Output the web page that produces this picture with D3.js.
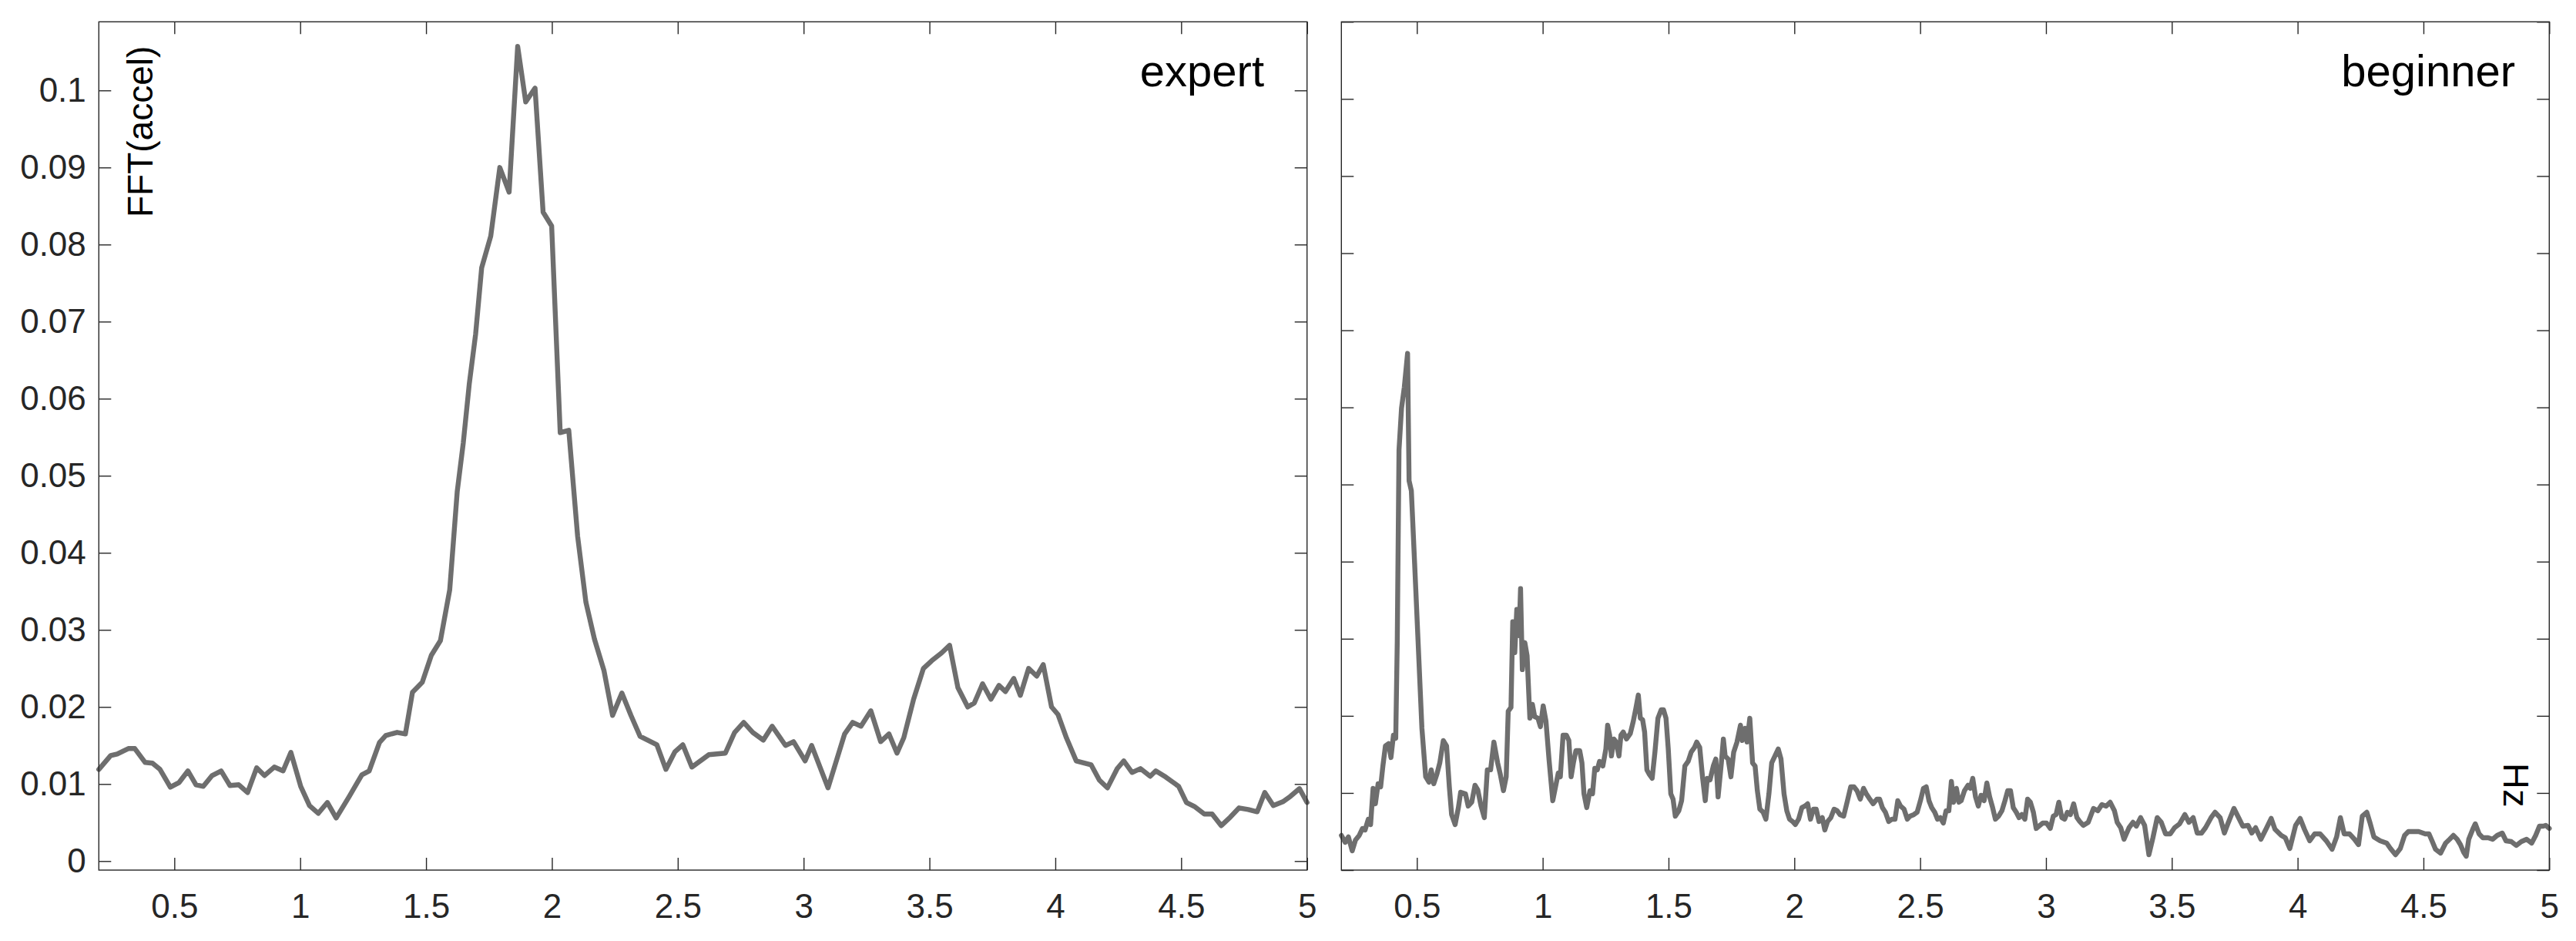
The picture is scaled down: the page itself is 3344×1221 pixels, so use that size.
<!DOCTYPE html>
<html>
<head>
<meta charset="utf-8">
<script src="https://cdn.jsdelivr.net/npm/d3@7"></script>
<style>
  body { margin: 0; background: #fff; }
  svg { display: block; }
  .axis text { font-family: "Liberation Sans", Arial, sans-serif; font-size: 44px; fill: #262626; }
  .axis line { stroke: #262626; stroke-width: 1.4; }
  .axis .domain { display: none; }
  .frame { fill: none; stroke: #262626; stroke-width: 1.4; }
  .line { fill: none; stroke: #6e6e6e; stroke-width: 6.4; stroke-linejoin: round; stroke-linecap: round; }
  .label { font-family: "Liberation Sans", Arial, sans-serif; fill: #000; }
</style>
</head>
<body>
<div id="chart"></div>
<script>
// tick values and labels
const xTickValues = [0.5, 1, 1.5, 2, 2.5, 3, 3.5, 4, 4.5, 5];
const xTickLabels = ["0.5", "1", "1.5", "2", "2.5", "3", "3.5", "4", "4.5", "5"];
const yTickValues = [0, 0.01, 0.02, 0.03, 0.04, 0.05, 0.06, 0.07, 0.08, 0.09, 0.1];
const yTickLabels = ["0", "0.01", "0.02", "0.03", "0.04", "0.05", "0.06", "0.07", "0.08", "0.09", "0.1"];
const yTickValuesRight = [0, 0.01, 0.02, 0.03, 0.04, 0.05, 0.06, 0.07, 0.08, 0.09, 0.1, 0.11];

const panelNames = ["expert", "beginner"];

// [Hz, FFT(accel)]
const expertSeries = [
  [0.200,0.0119],[0.247,0.0137],[0.273,0.0139],[0.317,0.0146],[0.343,0.0146],[0.384,0.0128],[0.413,0.0127],
  [0.443,0.0119],[0.484,0.0096],[0.519,0.0102],[0.554,0.0117],[0.586,0.0099],[0.615,0.0097],[0.650,0.0111],
  [0.686,0.0117],[0.721,0.0098],[0.756,0.0099],[0.791,0.0089],[0.827,0.0121],[0.858,0.0111],[0.897,0.0122],
  [0.932,0.0117],[0.963,0.0141],[1.002,0.0097],[1.037,0.0072],[1.072,0.0062],[1.108,0.0076],[1.143,0.0056],
  [1.195,0.0084],[1.245,0.0112],[1.274,0.0117],[1.315,0.0154],[1.340,0.0163],[1.385,0.0167],[1.418,0.0165],
  [1.446,0.0219],[1.485,0.0232],[1.521,0.0267],[1.557,0.0286],[1.594,0.0352],[1.624,0.0480],[1.648,0.0543],
  [1.672,0.0620],[1.697,0.0684],[1.721,0.0770],[1.757,0.0811],[1.793,0.0900],[1.830,0.0868],[1.864,0.1057],
  [1.896,0.0985],[1.933,0.1003],[1.965,0.0842],[1.999,0.0824],[2.033,0.0556],[2.067,0.0559],[2.102,0.0422],
  [2.135,0.0336],[2.169,0.0288],[2.207,0.0247],[2.241,0.0189],[2.278,0.0218],[2.314,0.0189],[2.350,0.0162],
  [2.417,0.0151],[2.453,0.0119],[2.489,0.0142],[2.520,0.0151],[2.556,0.0122],[2.623,0.0138],[2.689,0.0140],
  [2.726,0.0167],[2.762,0.0180],[2.798,0.0167],[2.840,0.0157],[2.875,0.0175],[2.928,0.0150],[2.960,0.0155],
  [3.006,0.0130],[3.032,0.0150],[3.097,0.0095],[3.163,0.0165],[3.195,0.0180],[3.228,0.0175],[3.267,0.0195],
  [3.306,0.0155],[3.339,0.0165],[3.371,0.0140],[3.398,0.0160],[3.437,0.0210],[3.476,0.0250],[3.509,0.0260],
  [3.548,0.0270],[3.580,0.0280],[3.613,0.0225],[3.652,0.0200],[3.678,0.0205],[3.711,0.0230],[3.744,0.0210],
  [3.776,0.0228],[3.802,0.0220],[3.835,0.0237],[3.861,0.0215],[3.894,0.0250],[3.926,0.0240],[3.952,0.0255],
  [3.985,0.0200],[4.011,0.0190],[4.044,0.0160],[4.083,0.0130],[4.142,0.0125],[4.175,0.0105],[4.207,0.0095],
  [4.246,0.0120],[4.272,0.0130],[4.305,0.0115],[4.338,0.0120],[4.377,0.0110],[4.399,0.0117],[4.439,0.0109],
  [4.490,0.0097],[4.521,0.0076],[4.552,0.0071],[4.592,0.0061],[4.623,0.0061],[4.659,0.0046],[4.695,0.0057],
  [4.730,0.0069],[4.766,0.0067],[4.802,0.0064],[4.832,0.0089],[4.866,0.0072],[4.904,0.0077],[4.934,0.0084],
  [4.970,0.0094],[5.000,0.0076]
];

const beginnerSeries = [
  [0.200,0.0045],[0.215,0.0036],[0.228,0.0043],[0.243,0.0025],[0.256,0.0039],[0.271,0.0045],[0.284,0.0054],
  [0.294,0.0052],[0.307,0.0066],[0.316,0.0059],[0.326,0.0106],[0.335,0.0086],[0.346,0.0112],[0.356,0.0108],
  [0.365,0.0135],[0.375,0.0161],[0.388,0.0164],[0.397,0.0146],[0.407,0.0175],[0.416,0.0171],[0.422,0.0295],
  [0.429,0.0545],[0.439,0.0599],[0.450,0.0626],[0.463,0.0670],[0.469,0.0505],[0.478,0.0492],[0.491,0.0398],
  [0.505,0.0295],[0.520,0.0184],[0.535,0.0121],[0.548,0.0114],[0.557,0.0130],[0.567,0.0112],[0.580,0.0125],
  [0.591,0.0139],[0.605,0.0168],[0.618,0.0161],[0.629,0.0108],[0.638,0.0072],[0.652,0.0059],[0.665,0.0081],
  [0.674,0.0101],[0.693,0.0099],[0.704,0.0083],[0.718,0.0088],[0.731,0.0110],[0.742,0.0104],[0.755,0.0083],
  [0.768,0.0068],[0.780,0.0130],[0.793,0.0130],[0.806,0.0166],[0.821,0.0139],[0.831,0.0125],[0.844,0.0103],
  [0.855,0.0121],[0.863,0.0206],[0.874,0.0211],[0.881,0.0322],[0.889,0.0282],[0.897,0.0338],[0.906,0.0304],
  [0.912,0.0365],[0.919,0.0260],[0.929,0.0295],[0.938,0.0278],[0.949,0.0197],[0.959,0.0215],[0.968,0.0199],
  [0.981,0.0197],[0.991,0.0186],[1.002,0.0213],[1.013,0.0193],[1.025,0.0144],[1.040,0.0090],[1.051,0.0108],
  [1.062,0.0126],[1.070,0.0121],[1.081,0.0175],[1.094,0.0175],[1.104,0.0168],[1.113,0.0121],[1.122,0.0139],
  [1.132,0.0155],[1.147,0.0155],[1.156,0.0139],[1.164,0.0099],[1.175,0.0081],[1.188,0.0103],[1.198,0.0099],
  [1.207,0.0132],[1.217,0.0130],[1.226,0.0141],[1.239,0.0135],[1.251,0.0157],[1.258,0.0188],[1.266,0.0175],
  [1.273,0.0148],[1.283,0.0170],[1.292,0.0166],[1.303,0.0148],[1.311,0.0175],[1.320,0.0179],[1.333,0.0170],
  [1.348,0.0177],[1.360,0.0193],[1.371,0.0211],[1.380,0.0227],[1.388,0.0197],[1.397,0.0195],[1.405,0.0179],
  [1.414,0.0130],[1.424,0.0124],[1.435,0.0119],[1.446,0.0153],[1.458,0.0197],[1.471,0.0208],[1.480,0.0208],
  [1.490,0.0197],[1.499,0.0157],[1.509,0.0099],[1.518,0.0092],[1.527,0.0070],[1.541,0.0077],[1.552,0.0090],
  [1.565,0.0135],[1.578,0.0141],[1.590,0.0153],[1.603,0.0159],[1.612,0.0166],[1.624,0.0159],[1.635,0.0121],
  [1.646,0.0090],[1.654,0.0119],[1.665,0.0117],[1.678,0.0135],[1.688,0.0144],[1.697,0.0095],[1.710,0.0139],
  [1.718,0.0170],[1.725,0.0148],[1.737,0.0144],[1.748,0.0121],[1.759,0.0153],[1.772,0.0166],[1.786,0.0188],
  [1.793,0.0168],[1.804,0.0184],[1.812,0.0166],[1.823,0.0197],[1.834,0.0139],[1.844,0.0135],[1.853,0.0103],
  [1.863,0.0079],[1.876,0.0075],[1.887,0.0066],[1.899,0.0099],[1.910,0.0139],[1.923,0.0148],[1.936,0.0157],
  [1.947,0.0144],[1.959,0.0099],[1.970,0.0077],[1.981,0.0066],[1.993,0.0063],[2.004,0.0059],[2.017,0.0066],
  [2.030,0.0081],[2.042,0.0083],[2.053,0.0086],[2.064,0.0066],[2.076,0.0079],[2.087,0.0079],[2.098,0.0063],
  [2.111,0.0068],[2.121,0.0052],[2.132,0.0063],[2.145,0.0068],[2.158,0.0079],[2.170,0.0077],[2.181,0.0072],
  [2.196,0.0070],[2.211,0.0090],[2.224,0.0108],[2.237,0.0108],[2.249,0.0103],[2.262,0.0092],[2.275,0.0106],
  [2.286,0.0099],[2.300,0.0092],[2.313,0.0086],[2.328,0.0092],[2.339,0.0092],[2.350,0.0081],[2.362,0.0075],
  [2.375,0.0063],[2.388,0.0066],[2.400,0.0066],[2.411,0.0090],[2.422,0.0083],[2.436,0.0079],[2.449,0.0066],
  [2.460,0.0070],[2.475,0.0072],[2.488,0.0075],[2.501,0.0090],[2.513,0.0106],[2.524,0.0108],[2.535,0.0090],
  [2.546,0.0081],[2.558,0.0075],[2.569,0.0066],[2.580,0.0068],[2.592,0.0061],[2.603,0.0077],[2.614,0.0077],
  [2.624,0.0115],[2.633,0.0088],[2.644,0.0106],[2.654,0.0088],[2.663,0.0090],[2.676,0.0103],[2.690,0.0110],
  [2.699,0.0106],[2.709,0.0119],[2.720,0.0095],[2.731,0.0083],[2.742,0.0097],[2.754,0.0090],[2.765,0.0113],
  [2.776,0.0095],[2.788,0.0081],[2.799,0.0066],[2.812,0.0070],[2.825,0.0077],[2.837,0.0090],[2.848,0.0103],
  [2.859,0.0103],[2.870,0.0081],[2.882,0.0075],[2.893,0.0068],[2.904,0.0072],[2.916,0.0066],[2.927,0.0092],
  [2.938,0.0088],[2.950,0.0075],[2.961,0.0054],[2.972,0.0057],[2.987,0.0061],[3.002,0.0061],[3.017,0.0054],
  [3.029,0.0070],[3.040,0.0072],[3.051,0.0088],[3.063,0.0068],[3.074,0.0066],[3.085,0.0075],[3.097,0.0072],
  [3.110,0.0086],[3.123,0.0068],[3.134,0.0063],[3.148,0.0058],[3.168,0.0062],[3.189,0.0080],[3.206,0.0077],
  [3.222,0.0085],[3.239,0.0083],[3.255,0.0088],[3.272,0.0077],[3.283,0.0062],[3.297,0.0055],[3.310,0.0040],
  [3.330,0.0055],[3.346,0.0062],[3.359,0.0057],[3.376,0.0068],[3.392,0.0058],[3.409,0.0020],[3.425,0.0042],
  [3.442,0.0068],[3.458,0.0062],[3.475,0.0047],[3.494,0.0047],[3.511,0.0055],[3.531,0.0060],[3.552,0.0072],
  [3.568,0.0062],[3.585,0.0068],[3.601,0.0048],[3.618,0.0048],[3.634,0.0055],[3.656,0.0068],[3.672,0.0075],
  [3.692,0.0068],[3.709,0.0048],[3.725,0.0062],[3.747,0.0080],[3.767,0.0067],[3.782,0.0057],[3.803,0.0058],
  [3.818,0.0048],[3.833,0.0055],[3.854,0.0040],[3.874,0.0053],[3.895,0.0067],[3.910,0.0053],[3.935,0.0045],
  [3.951,0.0042],[3.969,0.0028],[3.992,0.0058],[4.010,0.0067],[4.027,0.0053],[4.048,0.0038],[4.068,0.0047],
  [4.089,0.0047],[4.114,0.0038],[4.137,0.0027],[4.155,0.0043],[4.170,0.0068],[4.185,0.0047],[4.206,0.0047],
  [4.226,0.0040],[4.242,0.0033],[4.257,0.0070],[4.275,0.0075],[4.287,0.0062],[4.303,0.0043],[4.328,0.0038],
  [4.354,0.0035],[4.369,0.0028],[4.389,0.0020],[4.408,0.0028],[4.425,0.0045],[4.440,0.0050],[4.461,0.0050],
  [4.481,0.0050],[4.507,0.0047],[4.522,0.0047],[4.534,0.0038],[4.548,0.0027],[4.568,0.0022],[4.588,0.0035],
  [4.604,0.0040],[4.619,0.0045],[4.634,0.0040],[4.647,0.0033],[4.660,0.0023],[4.670,0.0018],[4.680,0.0040],
  [4.696,0.0053],[4.706,0.0060],[4.721,0.0047],[4.736,0.0042],[4.757,0.0042],[4.775,0.0040],[4.793,0.0045],
  [4.813,0.0048],[4.828,0.0038],[4.849,0.0037],[4.869,0.0032],[4.889,0.0037],[4.910,0.0040],[4.930,0.0035],
  [4.946,0.0045],[4.961,0.0057],[4.976,0.0057],[4.986,0.0058],[5.000,0.0054]
];

class FFTPanel {
  constructor(svg, series, opts) {
    this.svg = svg;
    this.data = series;
    this.name = opts.name;
    this.left = opts.left;
    this.right = opts.right;
    this.top = 28.3;
    this.bottom = 1129;
    this.yDomain = opts.yDomain;
    this.yTicks = opts.yTicks;
    this.showYLabels = opts.showYLabels;
    this.nameX = opts.nameX;

    this.xScale = d3.scaleLinear().domain([0.2, 5]).range([this.left, this.right]);
    this.yScale = d3.scaleLinear().domain(this.yDomain).range([this.bottom, this.top]);

    this.g = this.svg.append('g').attr('class', 'panel');
  }

  render() {
    this._renderAxis();

    const line = d3.line()
      .x(d => this.xScale(d[0]))
      .y(d => this.yScale(d[1]));

    this.g.append('path')
      .datum(this.data)
      .attr('class', 'line')
      .attr('d', line);

    this.g.append('rect')
      .attr('class', 'frame')
      .attr('x', this.left)
      .attr('y', this.top)
      .attr('width', this.right - this.left)
      .attr('height', this.bottom - this.top);

    this.g.append('text')
      .attr('class', 'label')
      .attr('x', this.nameX)
      .attr('y', 111.7)
      .attr('text-anchor', 'end')
      .style('font-size', '58px')
      .text(this.name);
  }

  _renderAxis() {
    const fmtX = d => xTickLabels[xTickValues.indexOf(d)];
    const fmtY = d => yTickLabels[yTickValues.indexOf(d)];

    this.g.append('g')
      .attr('class', 'x axis')
      .attr('transform', 'translate(0,' + this.bottom + ')')
      .call(d3.axisBottom(this.xScale).tickValues(xTickValues)
        .tickSizeInner(-16).tickSizeOuter(0).tickPadding(31).tickFormat(fmtX));

    this.g.append('g')
      .attr('class', 'x axis top')
      .attr('transform', 'translate(0,' + this.top + ')')
      .call(d3.axisTop(this.xScale).tickValues(xTickValues)
        .tickSizeInner(-16).tickSizeOuter(0).tickFormat(''));

    this.g.append('g')
      .attr('class', 'y axis')
      .attr('transform', 'translate(' + this.left + ',0)')
      .call(d3.axisLeft(this.yScale).tickValues(this.yTicks)
        .tickSizeInner(-16).tickSizeOuter(0).tickPadding(16.5)
        .tickFormat(this.showYLabels ? fmtY : ''));

    this.g.append('g')
      .attr('class', 'y axis right')
      .attr('transform', 'translate(' + this.right + ',0)')
      .call(d3.axisRight(this.yScale).tickValues(this.yTicks)
        .tickSizeInner(-16).tickSizeOuter(0).tickFormat(''));
  }
}

const svg = d3.select('#chart')
  .append('svg')
  .attr('width', 3344)
  .attr('height', 1221);

svg.append('rect').attr('width', 3344).attr('height', 1221).attr('fill', '#fff');

new FFTPanel(svg, expertSeries, {
  name: panelNames[0], left: 128.3, right: 1696.7,
  yDomain: [-0.00117, 0.1089], yTicks: yTickValues, showYLabels: true, nameX: 1641
}).render();

new FFTPanel(svg, beginnerSeries, {
  name: panelNames[1], left: 1741.3, right: 3309.3,
  yDomain: [0, 0.11], yTicks: yTickValuesRight, showYLabels: false, nameX: 3265
}).render();

// axis titles
svg.append('text')
  .attr('class', 'label')
  .attr('transform', 'translate(198,282) rotate(-90)')
  .style('font-size', '46px')
  .text('FFT(accel)');

svg.append('text')
  .attr('class', 'label')
  .attr('transform', 'translate(3250,990) rotate(90)')
  .style('font-size', '47px')
  .text('Hz');
</script>
</body>
</html>
